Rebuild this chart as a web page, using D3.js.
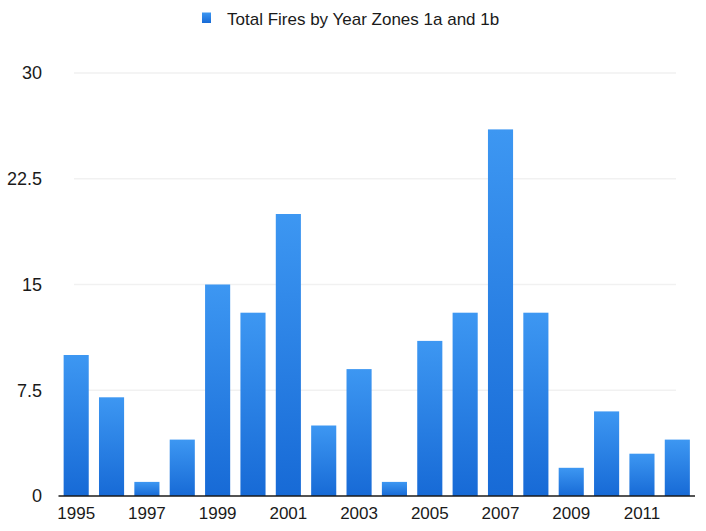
<!DOCTYPE html>
<html><head><meta charset="utf-8">
<script src="https://cdn.jsdelivr.net/npm/d3@7"></script>
<style>html,body{margin:0;padding:0;background:#fff;}</style>
</head><body>
<svg id="chart" width="706" height="531"></svg>
<script>
const years = [1995,1996,1997,1998,1999,2000,2001,2002,2003,2004,2005,2006,2007,2008,2009,2010,2011,2012];
const fires = [10,7,1,4,15,13,20,5,9,1,11,13,26,13,2,6,3,4];
const yTicks = [0,7.5,15,22.5,30];
const xTickLabels = [1995,1997,1999,2001,2003,2005,2007,2009,2011];
const seriesName = "Total Fires by Year Zones 1a and 1b";

const svg = d3.select("#chart");
const font = "'Liberation Sans', Arial, Helvetica, sans-serif";

const x = d3.scaleBand().domain(years).range([58.5, 695]).paddingInner(0).paddingOuter(0);
const y = d3.scaleLinear().domain([0, 30]).range([496, 73]);
const barW = x.step() * 0.71;

const defs = svg.append("defs");
const grad = defs.append("linearGradient").attr("id","barGrad").attr("x1",0).attr("y1",0).attr("x2",0).attr("y2",1);
grad.append("stop").attr("offset","0%").attr("stop-color","#3d97f2");
grad.append("stop").attr("offset","100%").attr("stop-color","#176ad6");
const lgrad = defs.append("linearGradient").attr("id","legGrad").attr("x1",0).attr("y1",0).attr("x2",0).attr("y2",1);
lgrad.append("stop").attr("offset","0%").attr("stop-color","#3d97f2");
lgrad.append("stop").attr("offset","100%").attr("stop-color","#176ad6");

// gridlines
svg.append("g").selectAll("line").data(yTicks.filter(d=>d>0)).join("line")
  .attr("x1", 74).attr("x2", 676)
  .attr("y1", d=>y(d)).attr("y2", d=>y(d))
  .attr("stroke", "#f1f1f1").attr("stroke-width", 1.5);

// y axis labels
const yAxis = d3.axisLeft(y).tickValues(yTicks).tickSize(0).tickPadding(0).tickFormat(d=>String(d));
const gy = svg.append("g").attr("transform","translate(42,0)").call(yAxis);
gy.select(".domain").remove();
gy.selectAll("text").attr("font-family", font).attr("font-size", 18).attr("fill","#1a1a1a");

// bars
svg.append("g").selectAll("rect").data(years).join("rect")
  .attr("x", (d)=>x(d) + (x.step()-barW)/2)
  .attr("width", barW)
  .attr("y", (d,i)=>y(fires[i]))
  .attr("height", (d,i)=>y(0)-y(fires[i]))
  .attr("fill","url(#barGrad)");

// x axis
const xAxis = d3.axisBottom(x).tickValues(xTickLabels).tickSize(0).tickPadding(11).tickFormat(d=>String(d));
const gx = svg.append("g").attr("transform",`translate(0,${y(0)})`).call(xAxis);
gx.select(".domain").attr("stroke","#1a1a1a").attr("stroke-width",1.5).attr("d","M58.5,0H695");
gx.selectAll("text").attr("font-family", font).attr("font-size", 17).attr("fill","#1a1a1a");

// legend
const leg = svg.append("g");
leg.append("rect").attr("x",202).attr("y",12.5).attr("width",9).attr("height",10.5).attr("fill","url(#legGrad)");
leg.append("text").attr("x",227).attr("y",25).attr("font-family",font).attr("font-size",17).attr("fill","#1a1a1a").text(seriesName);
</script>
</body></html>
